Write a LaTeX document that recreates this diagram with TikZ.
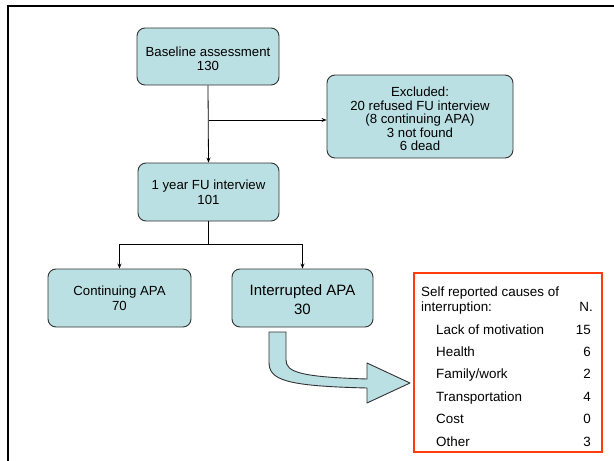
\documentclass[tikz,border=0pt]{standalone}
\usepackage{fontspec}
\setmainfont{Liberation Sans}
\usetikzlibrary{arrows.meta}
\definecolor{boxfill}{RGB}{187,224,227}
\definecolor{boxline}{RGB}{50,50,50}
\definecolor{redline}{RGB}{255,60,10}
\begin{document}
\begin{tikzpicture}[x=1pt,y=-1pt,
  flowbox/.style={draw=boxline,line width=0.9pt,fill=boxfill,rounded corners=8pt,
    align=center,inner sep=0pt,font=\fontsize{13.2}{15}\selectfont},
  conn/.style={line width=0.8pt,-{Stealth[length=5pt,width=4pt]}},
  plain/.style={line width=0.8pt},
  tabtext/.style={inner sep=0pt,font=\fontsize{13.4}{15}\selectfont}]
\useasboundingbox (0,0) rectangle (614,461);
\fill[white] (0,0) rectangle (614,461);
% outer frame
\draw[line width=2.3pt] (8,461) -- (8,6) -- (614,6);
% boxes
\node[flowbox,minimum width=142pt,minimum height=57pt] (base) at (208,56.5) {};
\node[align=center,inner sep=0pt,font=\fontsize{13.2}{14}\selectfont] (basetext) at (208,58.5) {Baseline assessment\\130};
\node[flowbox,minimum width=186pt,minimum height=83pt] (excl) at (420,116.5) {};
\node[align=center,inner sep=0pt,font=\fontsize{13.2}{13.5}\selectfont] (excltext) at (420,119) {Excluded:\\20 refused FU interview\\(8 continuing APA)\\3 not found\\6 dead};
\node[flowbox,minimum width=141pt,minimum height=58pt] (fu) at (208.5,192) {1 year FU interview\\101};
\node[flowbox,minimum width=143pt,minimum height=58pt] (cont) at (119.5,298) {Continuing APA\\70};
\node[flowbox,minimum width=141pt,minimum height=58pt,font=\fontsize{15}{19}\selectfont] (intr) at (302.5,298) {};
\node[align=center,inner sep=0pt,font=\fontsize{15}{19}\selectfont] (intrtext) at (302.5,300) {Interrupted APA\\30};
% connectors
\draw[conn] (base.south) -- (fu.north);
\coordinate (j1) at (208.5,120);
\draw[conn] (j1) -- (j1 -| excl.west);
\coordinate (j2) at (208.5,244);
\draw[plain] (fu.south) -- (j2);
\draw[conn] (j2) -| (cont.north);
\draw[conn] (j2) -| (intr.north);
% fat curved arrow
\draw[draw=boxline,line width=0.9pt,fill=boxfill,line join=round]
  (269,332) -- (269,362) .. controls (269,380) and (285,386) .. (367,388)
  -- (367,403) -- (410,383) -- (367,363) -- (367,379)
  .. controls (300,377) and (286,372) .. (286,360) -- (286,332) -- cycle;
% red table box
\node[draw=redline,line width=2pt,minimum width=188pt,minimum height=179pt,inner sep=0pt] (tab) at (508,362.5) {};
\node[tabtext,anchor=base west] (h1) at (421,296) {Self reported causes of};
\node[tabtext,anchor=base west] (h2) at (421,311) {interruption:};
\node[tabtext,anchor=base east] (hn) at (593,311) {N.};
\node[tabtext,anchor=base west] (r1) at (436,334) {Lack of motivation};
\node[tabtext,anchor=base east] (n1) at (591,334) {15};
\node[tabtext,anchor=base west] (r2) at (436,356) {Health};
\node[tabtext,anchor=base east] (n2) at (591,356) {6};
\node[tabtext,anchor=base west] (r3) at (436,378) {Family/work};
\node[tabtext,anchor=base east] (n3) at (591,378) {2};
\node[tabtext,anchor=base west] (r4) at (436,401) {Transportation};
\node[tabtext,anchor=base east] (n4) at (591,401) {4};
\node[tabtext,anchor=base west] (r5) at (436,423) {Cost};
\node[tabtext,anchor=base east] (n5) at (591,423) {0};
\node[tabtext,anchor=base west] (r6) at (436,446) {Other};
\node[tabtext,anchor=base east] (n6) at (591,446) {3};
\end{tikzpicture}
\end{document}
